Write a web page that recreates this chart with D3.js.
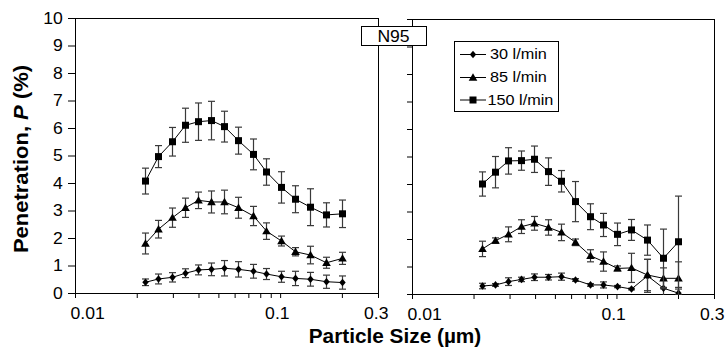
<!DOCTYPE html>
<html><head><meta charset="utf-8">
<script src="https://cdn.jsdelivr.net/npm/d3@7"></script>
<style>
body{margin:0;background:#fff}
svg{display:block}
text{font-family:Arial,"Liberation Sans",Helvetica,sans-serif;fill:#000}
</style>
</head><body>
<svg id="c" width="727" height="356"></svg>
<script>
// ---------- data ----------
const sizes = [0.022, 0.0255, 0.0296, 0.0342, 0.0397, 0.046, 0.0535, 0.0626, 0.0741, 0.0855, 0.1005, 0.118, 0.1405, 0.168, 0.2];
const seriesNames = ["30 l/min", "85 l/min", "150 l/min"];

const leftP30  = [0.39, 0.51, 0.57, 0.72, 0.84, 0.86, 0.90, 0.86, 0.79, 0.69, 0.59, 0.53, 0.50, 0.41, 0.38];
const leftE30  = [0.12, 0.18, 0.17, 0.16, 0.18, 0.23, 0.28, 0.28, 0.25, 0.20, 0.20, 0.26, 0.25, 0.24, 0.24];
const leftP85  = [1.80, 2.32, 2.74, 3.10, 3.37, 3.31, 3.31, 3.10, 2.80, 2.25, 1.89, 1.50, 1.38, 1.10, 1.26];
const leftE85  = [0.38, 0.32, 0.35, 0.35, 0.30, 0.40, 0.43, 0.38, 0.35, 0.30, 0.18, 0.15, 0.32, 0.20, 0.22];
const leftP150 = [4.07, 4.96, 5.50, 6.10, 6.23, 6.27, 6.05, 5.54, 5.04, 4.40, 3.84, 3.41, 3.12, 2.84, 2.88];
const leftE150 = [0.47, 0.40, 0.52, 0.62, 0.68, 0.70, 0.56, 0.49, 0.56, 0.48, 0.57, 0.49, 0.67, 0.44, 0.50];

const rightP30  = [0.29, 0.33, 0.45, 0.53, 0.61, 0.61, 0.63, 0.51, 0.33, 0.33, 0.27, 0.18, 0.66, 0.21, 0.03];
const rightE30  = [0.10, 0.05, 0.14, 0.08, 0.12, 0.10, 0.13, 0.05, 0.05, 0.11, 0.04, 0.03, 0.60, 0.30, 0.15];
const rightP85  = [1.64, 1.94, 2.17, 2.45, 2.57, 2.42, 2.24, 1.88, 1.39, 1.18, 0.93, 0.95, 0.69, 0.57, 0.57];
const rightE85  = [0.28, 0.10, 0.27, 0.25, 0.25, 0.28, 0.30, 0.12, 0.22, 0.35, 0.09, 0.53, 0.57, 0.38, 0.60];
const rightP150 = [4.00, 4.43, 4.84, 4.85, 4.90, 4.45, 4.10, 3.36, 2.81, 2.51, 2.17, 2.33, 1.96, 1.30, 1.90];
const rightE150 = [0.44, 0.57, 0.48, 0.35, 0.48, 0.50, 0.39, 0.73, 0.47, 0.42, 0.41, 0.38, 0.55, 1.06, 1.66];

const yTicks = [0, 1, 2, 3, 4, 5, 6, 7, 8, 9, 10];
const xMajorTicks = [0.01, 0.1, 0.3];
const xMinorTicks = [0.02, 0.03, 0.04, 0.05, 0.06, 0.07, 0.08, 0.09, 0.2];
const panelLabel = "N95";
const xTitle = "Particle Size (µm)";

// ---------- drawing ----------
const svg = d3.select("#c");
svg.append("rect").attr("width", 727).attr("height", 356).attr("fill", "#fff");

const markerTypes = ["diamond", "triangle", "square"];
function markerPath(type) {
  if (type === "square") return "M-3.5,-3.5H3.5V3.5H-3.5Z";
  if (type === "triangle") return "M0,-4.2L4.3,3.2H-4.3Z";
  return "M0,-3.8L3.2,0L0,3.8L-3.2,0Z";
}

const panels = [
  { left: 75, right: 378, top: 18, bottom: 293, yLabels: true, yTick: 7,
    vals: [leftP30, leftP85, leftP150], errs: [leftE30, leftE85, leftE150] },
  { left: 412, right: 714, top: 19, bottom: 294, yLabels: false, yTick: 5,
    vals: [rightP30, rightP85, rightP150], errs: [rightE30, rightE85, rightE150] }
];

const labelShift = {0.01: 11, 0.1: -3, 0.3: -2};

panels.forEach((p, pi) => {
  const x = d3.scaleLog().domain([0.01, 0.3]).range([p.left, p.right]);
  const y = d3.scaleLinear().domain([0, 10]).range([p.bottom, p.top]);

  // x axis
  const gx = svg.append("g").attr("transform", `translate(0,${p.bottom})`)
    .call(d3.axisBottom(x).tickValues(xMajorTicks.concat(xMinorTicks))
      .tickSize(5).tickSizeOuter(0)
      .tickFormat(d => xMajorTicks.includes(d) ? String(d) : ""));
  gx.select(".domain").remove();
  gx.selectAll("line").attr("stroke", "#000");
  gx.selectAll("text").attr("font-size", 16).attr("y", 15)
    .attr("font-family", "Arial, 'Liberation Sans', sans-serif")
    .attr("dx", d => labelShift[d] || 0)
    .attr("transform", "scale(1.1,1)");

  // y axis
  const gy = svg.append("g").attr("transform", `translate(${p.left},0)`)
    .call(d3.axisLeft(y).tickValues(yTicks).tickSize(p.yTick).tickSizeOuter(0)
      .tickFormat(d => p.yLabels ? d3.format("d")(d) : ""));
  gy.select(".domain").remove();
  gy.selectAll("line").attr("stroke", "#000");
  gy.selectAll("text").attr("font-size", 16).attr("x", -11)
    .attr("font-family", "Arial, 'Liberation Sans', sans-serif")
    .attr("transform", "scale(1.1,1)");

  // frame
  svg.append("rect")
    .attr("x", p.left + 0.5).attr("y", p.top + 0.5)
    .attr("width", p.right - p.left).attr("height", p.bottom - p.top)
    .attr("fill", "none").attr("stroke", "#000").attr("stroke-width", 1);

  // clip
  const cid = "clip" + pi;
  svg.append("clipPath").attr("id", cid).append("rect")
    .attr("x", p.left).attr("y", p.top)
    .attr("width", p.right - p.left + 1).attr("height", p.bottom - p.top + 1);
  const g = svg.append("g").attr("clip-path", `url(#${cid})`);

  p.vals.forEach((vals, si) => {
    const pts = sizes.map((s, i) => ({ s, v: vals[i], e: p.errs[si][i] }));
    // error bars
    const eb = g.append("g").attr("stroke", "#3a3a3a").attr("stroke-width", 1.2).attr("fill", "none");
    pts.forEach(d => {
      const cx = Math.round(x(d.s)) + 0.5;
      const y1 = y(d.v + d.e), y2 = y(d.v - d.e);
      eb.append("line").attr("x1", cx).attr("x2", cx).attr("y1", y1).attr("y2", y2);
      eb.append("line").attr("x1", cx - 3.5).attr("x2", cx + 3.5).attr("y1", y1).attr("y2", y1);
      eb.append("line").attr("x1", cx - 3.5).attr("x2", cx + 3.5).attr("y1", y2).attr("y2", y2);
    });
    // line
    g.append("path").datum(pts)
      .attr("fill", "none").attr("stroke", "#000").attr("stroke-width", 1)
      .attr("d", d3.line().x(d => Math.round(x(d.s)) + 0.5).y(d => y(d.v)));
    // markers
    g.selectAll(null).data(pts).enter().append("path")
      .attr("d", markerPath(markerTypes[si]))
      .attr("transform", d => `translate(${Math.round(x(d.s)) + 0.5},${y(d.v)})`)
      .attr("fill", "#000");
  });
});

// N95 label box
const nb = svg.append("g");
nb.append("rect").attr("x", 361.5).attr("y", 26.5).attr("width", 65).attr("height", 19)
  .attr("fill", "#fff").attr("stroke", "#000");
nb.append("text").attr("transform", "translate(393.5,41.5) scale(1.1,1)")
  .attr("text-anchor", "middle").attr("font-size", 16).text(panelLabel);

// legend
const lg = svg.append("g");
lg.append("rect").attr("x", 454.5).attr("y", 41.5).attr("width", 104).attr("height", 70)
  .attr("fill", "#fff").attr("stroke", "#000");
const rowsY = [54, 77, 99.5];
seriesNames.forEach((name, i) => {
  const ry = rowsY[i];
  lg.append("line").attr("x1", 460).attr("x2", 486).attr("y1", ry + 0.5).attr("y2", ry + 0.5)
    .attr("stroke", "#000").attr("stroke-width", 1);
  lg.append("path").attr("d", markerPath(markerTypes[i]))
    .attr("transform", `translate(473,${ry + 0.5})`).attr("fill", "#000");
  lg.append("text").attr("transform", `translate(${i === 2 ? 487.5 : 490},${ry + 5}) scale(1.16,1)`)
    .attr("font-size", 14).text(name);
});

// axis titles
const yt = svg.append("text")
  .attr("transform", "translate(28,159) rotate(-90) scale(1.1,1)")
  .attr("text-anchor", "middle").attr("font-size", 20).attr("font-weight", "bold");
yt.append("tspan").text("Penetration, ");
yt.append("tspan").attr("font-style", "italic").text("P");
yt.append("tspan").text(" (%)");

svg.append("text")
  .attr("transform", "translate(395,343) scale(1.04,1)")
  .attr("text-anchor", "middle").attr("font-size", 20).attr("font-weight", "bold")
  .text(xTitle);
</script>
</body></html>
